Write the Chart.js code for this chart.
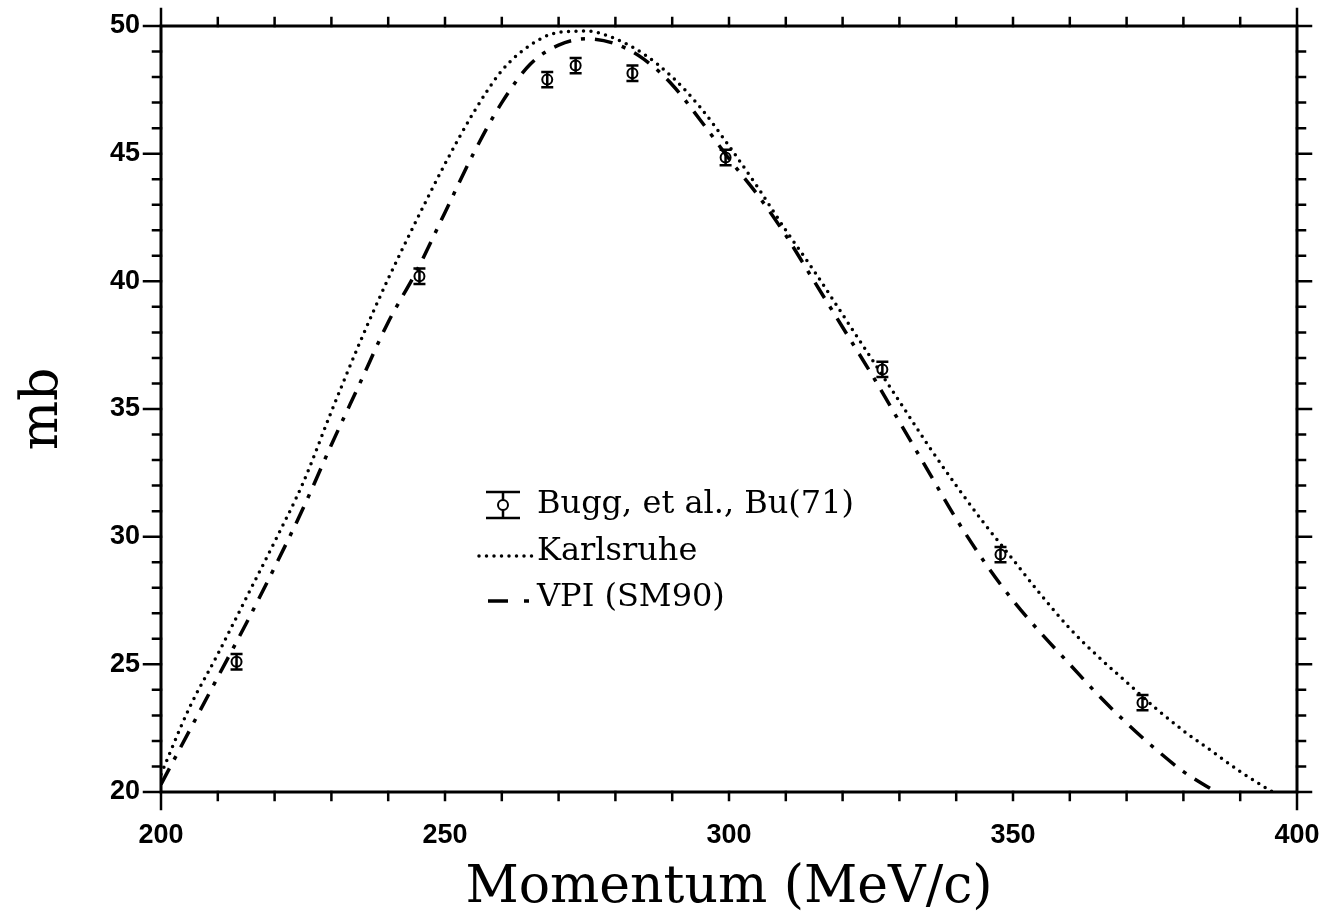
<!DOCTYPE html>
<html>
<head>
<meta charset="utf-8">
<script src="https://cdn.jsdelivr.net/npm/chart.js@4.4.1/dist/chart.umd.min.js"></script>
<style>
  html, body { margin: 0; padding: 0; background: #fff; }
  #chartBox { width: 1332px; height: 924px; }
</style>
</head>
<body>
<div id="chartBox"><canvas id="myCanvas" width="1332" height="924"></canvas></div>
<script>
'use strict';

// Bugg et al. measurements (momentum in MeV/c, cross section in mb)
let bugMomentum = [213.3, 245.5, 268, 273, 283, 299.4, 327, 347.8, 372.8];
let bugSigma = [25.1, 40.2, 47.9, 48.45, 48.15, 44.85, 36.55, 29.3, 23.5];
let bugError = [0.3, 0.3, 0.3, 0.3, 0.3, 0.3, 0.3, 0.3, 0.3];

// Karlsruhe curve
let karlsMomentum = [200, 205, 210, 215, 220, 225, 230, 235, 240, 245, 250, 255, 260, 265, 270, 275, 280, 285, 290, 295, 300, 305, 310, 315, 320, 325, 330, 335, 340, 345, 350, 355, 360, 365, 370, 375, 380, 385, 390, 395, 400];
let karlsSigma = [20.7, 23.3, 25.4, 27.6, 29.8, 32.1, 34.9, 37.6, 40.1, 42.4, 44.6, 46.6, 48.25, 49.25, 49.75, 49.8, 49.5, 48.9, 48.0, 46.8, 45.3, 43.7, 42.0, 40.4, 38.7, 37.0, 35.3, 33.6, 32.0, 30.5, 29.1, 27.7, 26.4, 25.3, 24.3, 23.3, 22.4, 21.6, 20.8, 20.1, 19.5];

// VPI (SM90) curve
let vpiMomentum = [200, 205, 210, 215, 220, 225, 230, 235, 240, 245, 250, 255, 260, 265, 270, 275, 280, 285, 290, 295, 300, 305, 310, 315, 320, 325, 330, 335, 340, 345, 350, 355, 360, 365, 370, 375, 380, 385, 390];
let vpiSigma = [20.3, 22.4, 24.5, 26.6, 28.8, 31.1, 33.6, 36.0, 38.4, 40.4, 42.7, 45.0, 47.0, 48.5, 49.25, 49.5, 49.3, 48.7, 47.7, 46.3, 44.8, 43.4, 41.8, 40.0, 38.2, 36.4, 34.5, 32.6, 30.7, 29.0, 27.5, 26.2, 25.0, 23.8, 22.7, 21.7, 20.8, 20.1, 19.4];

let xTickLabels = [200, 250, 300, 350, 400];
let yTickLabels = [20, 25, 30, 35, 40, 45, 50];

const tickFont = { family: 'Liberation Sans', size: 27, weight: 'bold' };
const serif = 'DejaVu Serif';
const ink = '#000';

function toPoints(xs, ys) {
  let pts = [];
  for (let i = 0; i < xs.length; i++) {
    pts.push({ x: xs[i], y: ys[i] });
  }
  return pts;
}

// vertical error bars with caps, drawn through the circle markers
const errorBars = {
  id: 'errorBars',
  afterDatasetsDraw(chart) {
    const c = chart.ctx;
    const xs = chart.scales.x;
    const ys = chart.scales.y;
    c.save();
    c.strokeStyle = ink;
    c.lineWidth = 2.5;
    for (let i = 0; i < bugMomentum.length; i++) {
      let px = xs.getPixelForValue(bugMomentum[i]);
      let top = ys.getPixelForValue(bugSigma[i] + bugError[i]);
      let bot = ys.getPixelForValue(bugSigma[i] - bugError[i]);
      c.beginPath();
      c.moveTo(px, top); c.lineTo(px, bot);
      c.moveTo(px - 6, top); c.lineTo(px + 6, top);
      c.moveTo(px - 6, bot); c.lineTo(px + 6, bot);
      c.stroke();
    }
    c.restore();
  }
};

// box around the plot with outward ticks on all four sides
const frame = {
  id: 'frame',
  afterDraw(chart) {
    const c = chart.ctx;
    const a = chart.chartArea;
    const xs = chart.scales.x;
    const ys = chart.scales.y;
    c.save();
    c.strokeStyle = ink;
    c.lineCap = 'square';
    c.lineWidth = 3;
    c.strokeRect(a.left, a.top, a.right - a.left, a.bottom - a.top);
    c.lineWidth = 2.5;
    c.beginPath();
    xs.ticks.forEach(t => {
      let px = xs.getPixelForValue(t.value);
      let isEnd = t.value === xs.min || t.value === xs.max;
      c.moveTo(px, a.bottom); c.lineTo(px, a.bottom + (isEnd ? 17 : 8));
      c.moveTo(px, a.top); c.lineTo(px, a.top - (isEnd ? 17 : 8));
    });
    ys.ticks.forEach(t => {
      let py = ys.getPixelForValue(t.value);
      let major = t.value % 5 === 0;
      c.moveTo(a.left, py); c.lineTo(a.left - (major ? 17 : 8), py);
      c.moveTo(a.right, py); c.lineTo(a.right + (major ? 14 : 8), py);
    });
    c.stroke();
    c.restore();
  }
};

// key drawn inside the plot area
const keyBox = {
  id: 'keyBox',
  afterDraw(chart) {
    const c = chart.ctx;
    c.save();
    c.fillStyle = ink;
    c.strokeStyle = ink;
    c.font = '32px "' + serif + '"';
    c.textBaseline = 'middle';
    c.textAlign = 'left';

    // data symbol
    let sx = 503, sy = 505;
    c.lineWidth = 2.5;
    c.beginPath();
    c.moveTo(sx - 17, sy - 13); c.lineTo(sx + 17, sy - 13);
    c.moveTo(sx - 17, sy + 13); c.lineTo(sx + 17, sy + 13);
    c.moveTo(sx, sy - 13); c.lineTo(sx, sy + 13);
    c.stroke();
    c.beginPath();
    c.fillStyle = '#fff';
    c.arc(sx, sy, 5, 0, Math.PI * 2);
    c.fill();
    c.lineWidth = 2;
    c.stroke();
    c.fillStyle = ink;
    c.fillText('Bugg, et al., Bu(71)', 537, 505);

    // dotted sample
    c.lineWidth = 3.5;
    c.lineCap = 'round';
    c.setLineDash([0, 7.5]);
    c.beginPath();
    c.moveTo(479, 556); c.lineTo(533, 556);
    c.stroke();
    c.fillText('Karlsruhe', 537, 552);

    // dash-dot sample
    c.lineCap = 'butt';
    c.setLineDash([]);
    c.beginPath();
    c.moveTo(488, 601); c.lineTo(508, 601);
    c.moveTo(524, 601); c.lineTo(529, 601);
    c.stroke();
    c.fillText('VPI (SM90)', 537, 598);
    c.restore();
  }
};

const config = {
  type: 'scatter',
  data: {
    datasets: [
      {
        label: 'Karlsruhe',
        type: 'line',
        data: toPoints(karlsMomentum, karlsSigma),
        borderColor: ink,
        borderWidth: 3.5,
        borderDash: [0, 7.5],
        borderCapStyle: 'round',
        pointRadius: 0,
        fill: false,
        cubicInterpolationMode: 'monotone',
        clip: 0
      },
      {
        label: 'VPI (SM90)',
        type: 'line',
        data: toPoints(vpiMomentum, vpiSigma),
        borderColor: ink,
        borderWidth: 3.5,
        borderDash: [18, 10, 4, 10],
        borderCapStyle: 'butt',
        pointRadius: 0,
        fill: false,
        cubicInterpolationMode: 'monotone',
        clip: 0
      },
      {
        label: 'Bugg, et al., Bu(71)',
        data: toPoints(bugMomentum, bugSigma),
        pointRadius: 5,
        pointBorderWidth: 2,
        pointBackgroundColor: '#fff',
        borderColor: ink,
        showLine: false
      }
    ]
  },
  options: {
    responsive: false,
    animation: false,
    devicePixelRatio: 1,
    layout: { padding: { left: 0, right: 35, top: 26, bottom: 0 } },
    plugins: {
      legend: { display: false },
      tooltip: { enabled: false }
    },
    scales: {
      x: {
        type: 'linear',
        min: 200,
        max: 400,
        afterFit(scale) {
          scale.height = 132;
          scale.paddingLeft = 0;
          scale.paddingRight = 0;
        },
        afterBuildTicks(scale) {
          let t = [];
          for (let v = 200; v <= 400; v += 10) t.push({ value: v });
          scale.ticks = t;
        },
        ticks: {
          autoSkip: false,
          maxRotation: 0,
          padding: 27,
          color: ink,
          font: tickFont,
          callback: v => (xTickLabels.indexOf(v) !== -1 ? String(v) : '')
        },
        grid: { display: false, drawTicks: false },
        border: { display: false },
        title: {
          display: true,
          text: 'Momentum (MeV/c)',
          color: ink,
          font: { family: serif, size: 52 },
          padding: { top: 0, bottom: 4 }
        }
      },
      y: {
        type: 'linear',
        min: 20,
        max: 50,
        afterFit(scale) {
          scale.width = 161;
          scale.paddingTop = 0;
          scale.paddingBottom = 0;
        },
        afterBuildTicks(scale) {
          let t = [];
          for (let v = 20; v <= 50; v += 1) t.push({ value: v });
          scale.ticks = t;
        },
        ticks: {
          autoSkip: false,
          padding: 21,
          color: ink,
          font: tickFont,
          callback: v => (yTickLabels.indexOf(v) !== -1 ? String(v) : '')
        },
        grid: { display: false, drawTicks: false },
        border: { display: false },
        title: {
          display: true,
          text: 'mb',
          color: ink,
          font: { family: serif, size: 52 },
          padding: { top: 12, bottom: 0 }
        }
      }
    }
  },
  plugins: [errorBars, frame, keyBox]
};

const myChart = new Chart(document.getElementById('myCanvas'), config);
</script>
</body>
</html>
